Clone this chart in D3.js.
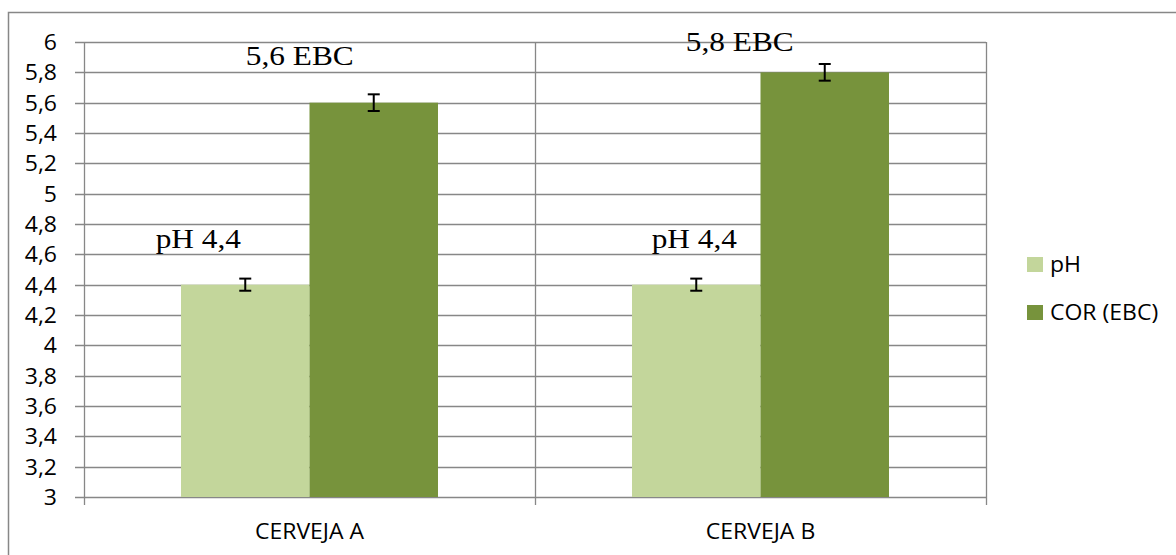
<!DOCTYPE html>
<html><head><meta charset="utf-8">
<script src="https://cdn.jsdelivr.net/npm/d3@7"></script>
<style>
html,body{margin:0;padding:0;background:#fff;}
svg{display:block;}
</style></head>
<body>
<svg id="chart" width="1176" height="555"></svg>
<script>
// ---- data ----
const categories = ["CERVEJA A", "CERVEJA B"];
const seriesNames = ["pH", "COR (EBC)"];
const phValues = [4.4, 4.4];
const corValues = [5.6, 5.8];
const phErrors = [0.04, 0.04];
const corErrors = [0.055, 0.055];
const dataLabels = [["pH 4,4", "5,6 EBC"], ["pH 4,4", "5,8 EBC"]];
const yTickValues = [3, 3.2, 3.4, 3.6, 3.8, 4, 4.2, 4.4, 4.6, 4.8, 5, 5.2, 5.4, 5.6, 5.8, 6];
const yTickLabels = ["3", "3,2", "3,4", "3,6", "3,8", "4", "4,2", "4,4", "4,6", "4,8", "5", "5,2", "5,4", "5,6", "5,8", "6"];

// ---- layout / style ----
const colors = ["#c3d69b", "#77933c"];
const gridColor = "#878787";
const sansFont = "'Open Sans', Lato, sans-serif";
const serifFont = "'Liberation Serif', 'Times New Roman', serif";
const sx = 1.16;   // horizontal stretch for serif labels
const sxs = 1.07;  // horizontal stretch for sans text
const sansSize = 21.5;
const plot = {left: 84, right: 986, top: 42, bottom: 497};
// manual label offsets (dx from bar center, dy from bar top) per category/series
const labelOffsets = [[[-47, -37], [-74, -38]], [[-2, -37], [-85, -21]]];

const svg = d3.select("#chart");

// outer frame
svg.append("rect").attr("x", 8.5).attr("y", 12.5).attr("width", 1300).attr("height", 700)
  .attr("fill", "none").attr("stroke", gridColor).attr("stroke-width", 1.5);

const y = d3.scaleLinear().domain([3, 6]).range([plot.bottom, plot.top]);
const x0 = d3.scaleBand().domain(categories).range([plot.left, plot.right]).paddingInner(0).paddingOuter(0);
const x1 = d3.scaleBand().domain(seriesNames).range([0, x0.bandwidth()]).paddingInner(0).paddingOuter(0.755);

// gridlines
svg.append("g").selectAll("line").data(yTickValues).join("line")
  .attr("x1", plot.left - 9).attr("x2", plot.right)
  .attr("y1", d => Math.round(y(d)) + 0.5).attr("y2", d => Math.round(y(d)) + 0.5)
  .attr("stroke", gridColor).attr("stroke-width", 1.3);

// vertical separators (left axis, category boundaries, right edge)
const vBounds = categories.map(c => x0(c)).concat([plot.right]);
svg.append("g").selectAll("line").data(vBounds).join("line")
  .attr("x1", d => Math.round(d) + 0.5).attr("x2", d => Math.round(d) + 0.5)
  .attr("y1", plot.top).attr("y2", plot.bottom + 8)
  .attr("stroke", gridColor).attr("stroke-width", 1.3);

// y tick labels
svg.append("g").selectAll("text").data(yTickValues).join("text")
  .attr("transform", d => `translate(${plot.left - 27},${y(d) + 8}) scale(${sxs},1)`)
  .attr("text-anchor", "end").attr("font-family", sansFont).attr("font-size", sansSize)
  .attr("fill", "#000").text((d, i) => yTickLabels[i]);

// bars
const rows = categories.map((c, i) => ({
  cat: c,
  vals: [
    {s: seriesNames[0], v: phValues[i], e: phErrors[i], label: dataLabels[i][0], off: labelOffsets[i][0], color: colors[0]},
    {s: seriesNames[1], v: corValues[i], e: corErrors[i], label: dataLabels[i][1], off: labelOffsets[i][1], color: colors[1]}
  ]
}));

const groups = svg.append("g").selectAll("g").data(rows).join("g")
  .attr("transform", d => `translate(${x0(d.cat)},0)`);

groups.selectAll("rect").data(d => d.vals).join("rect")
  .attr("x", d => x1(d.s)).attr("width", x1.bandwidth())
  .attr("y", d => y(d.v)).attr("height", d => y(3) - y(d.v))
  .attr("fill", d => d.color);

// error bars
const eb = groups.selectAll("g.err").data(d => d.vals).join("g").attr("class", "err");
eb.append("line")
  .attr("x1", d => x1(d.s) + x1.bandwidth() / 2).attr("x2", d => x1(d.s) + x1.bandwidth() / 2)
  .attr("y1", d => y(d.v + d.e)).attr("y2", d => y(d.v - d.e))
  .attr("stroke", "#000").attr("stroke-width", 2);
eb.selectAll("line.cap").data(d => [{d, v: d.v + d.e}, {d, v: d.v - d.e}]).join("line").attr("class", "cap")
  .attr("x1", o => x1(o.d.s) + x1.bandwidth() / 2 - 6).attr("x2", o => x1(o.d.s) + x1.bandwidth() / 2 + 6)
  .attr("y1", o => y(o.v)).attr("y2", o => y(o.v))
  .attr("stroke", "#000").attr("stroke-width", 2);

// data labels
groups.selectAll("text.dl").data(d => d.vals).join("text").attr("class", "dl")
  .attr("transform", d => `translate(${x1(d.s) + x1.bandwidth() / 2 + d.off[0]},${y(d.v) + d.off[1]}) scale(${sx},1)`)
  .attr("text-anchor", "middle").attr("font-family", serifFont).attr("font-size", 27)
  .attr("fill", "#000").text(d => d.label);

// category labels
svg.append("g").selectAll("text").data(categories).join("text")
  .attr("transform", d => `translate(${x0(d) + x0.bandwidth() / 2},${plot.bottom + 42}) scale(${sxs},1)`)
  .attr("text-anchor", "middle").attr("font-family", sansFont).attr("font-size", sansSize)
  .attr("fill", "#000").text(d => d);

// legend
const legend = svg.append("g").attr("transform", "translate(1027,257)");
const li = legend.selectAll("g").data(seriesNames).join("g")
  .attr("transform", (d, i) => `translate(0,${i * 48})`);
li.append("rect").attr("width", 16).attr("height", 15).attr("fill", (d, i) => colors[i]);
li.append("text").attr("transform", `translate(23,15) scale(${sxs},1)`)
  .attr("font-family", sansFont).attr("font-size", sansSize).attr("fill", "#000").text(d => d);
</script>
</body></html>
